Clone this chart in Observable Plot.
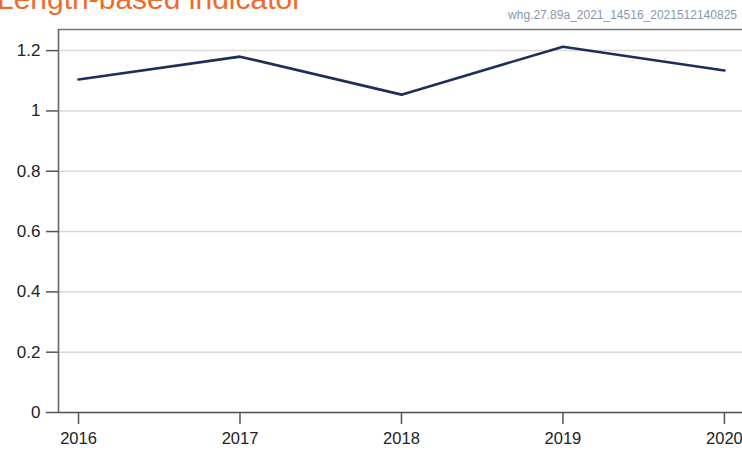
<!DOCTYPE html>
<html>
<head>
<meta charset="utf-8">
<script src="https://cdn.jsdelivr.net/npm/d3@7"></script>
<script src="https://cdn.jsdelivr.net/npm/@observablehq/plot@0.6"></script>
<style>
  html, body { margin: 0; padding: 0; background: #fff; overflow: hidden; }
  #wrap { position: relative; width: 742px; height: 450px; overflow: hidden; }
  #title { position: absolute; left: -3px; top: -16px; font-family: "Liberation Sans", Arial, sans-serif; font-size: 30px; line-height: 1; color: #f26a2a; white-space: nowrap; }
  #code { position: absolute; right: 5px; top: 9px; font-family: "Liberation Sans Narrow", "Liberation Sans", Arial, sans-serif; font-size: 12px; line-height: 1; color: #8797ad; white-space: nowrap; }
  #chart { position: absolute; left: 0; top: 0; }
</style>
</head>
<body>
<div id="wrap">
  <div id="chart"></div>
  <div id="title">Length-based indicator</div>
  <div id="code">whg.27.89a_2021_14516_2021512140825</div>
</div>
<script>
const years = [2016, 2017, 2018, 2019, 2020];
const values = [1.104, 1.180, 1.054, 1.213, 1.134];
const yTicks = [0, 0.2, 0.4, 0.6, 0.8, 1, 1.2];
const yTickLabels = ["0", "0.2", "0.4", "0.6", "0.8", "1", "1.2"];
const xDomain = [2015.876, 2020.112];
const yDomain = [0, 1.27];

const data = years.map((y, i) => ({year: y, value: values[i]}));
const font = "'Liberation Sans', Arial, sans-serif";

const chart = Plot.plot({
  width: 742,
  height: 450,
  marginLeft: 58,
  marginRight: 0,
  marginTop: 29,
  marginBottom: 38,
  style: {fontFamily: font, background: "white"},
  x: {domain: xDomain},
  y: {domain: yDomain},
  marks: [
    Plot.gridY(yTicks, {stroke: "#d9d9d9", strokeWidth: 1.5, strokeOpacity: 1}),
    Plot.ruleY([yDomain[1]], {stroke: "#777", strokeWidth: 1.6}),
    Plot.ruleX([xDomain[0]], {stroke: "#666", strokeWidth: 1.6}),
    Plot.ruleY([0], {stroke: "#555", strokeWidth: 1.6}),
    Plot.axisY(yTicks, {
      tickSize: 12, tickPadding: 6, stroke: "#555", strokeWidth: 1.5,
      tickFormat: (d, i) => yTickLabels[yTicks.indexOf(d)],
      fontSize: 17, fill: "#222", label: null
    }),
    Plot.axisX(years, {
      tickSize: 12, tickPadding: 8, stroke: "#555", strokeWidth: 1.5,
      tickFormat: d => String(d),
      fontSize: 16.5, fill: "#222", label: null
    }),
    Plot.line(data, {x: "year", y: "value", stroke: "#1b2f5c", strokeWidth: 2.6})
  ]
});
document.getElementById("chart").appendChild(chart);
</script>
</body>
</html>
